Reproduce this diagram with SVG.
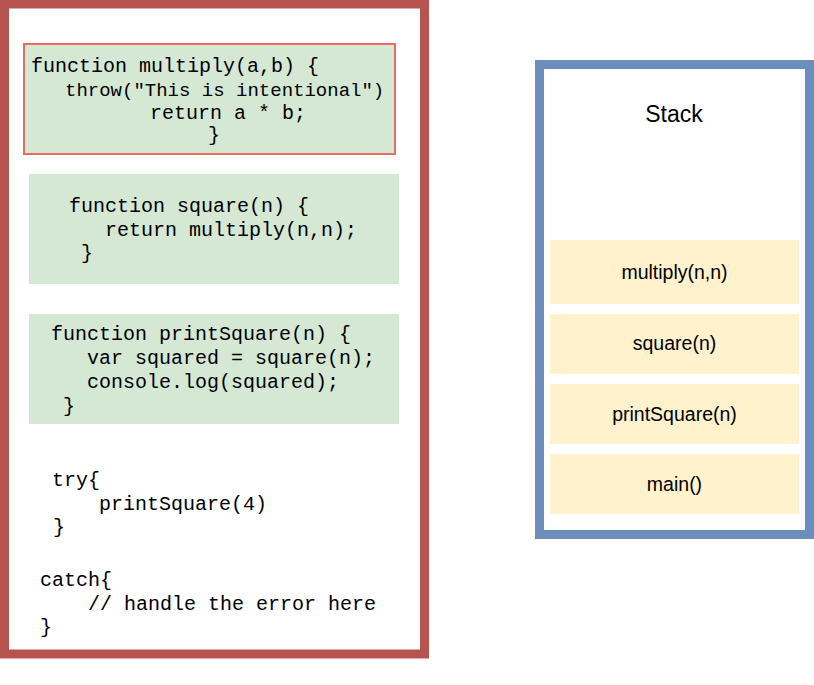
<svg xmlns="http://www.w3.org/2000/svg" width="814" height="685" viewBox="0 0 814 685">
<style>
.code{font-family:"Liberation Mono","Courier New",monospace;font-size:20px;fill:#000}
.lbl{font-family:"Liberation Sans",Arial,Helvetica,sans-serif;font-size:19.5px;fill:#000;text-anchor:middle}
.green{fill:#d5e8d4}
.frame{fill:#fff2cc}
</style>
<rect width="814" height="685" fill="#ffffff"/>
<g id="code-panel">
<rect x="4.5" y="4" width="420" height="650" fill="#ffffff" stroke="#b85450" stroke-width="9"/>
</g>
<g id="multiply-block">
<rect x="24" y="44" width="371" height="110" class="green" stroke="#ea6b66" stroke-width="2"/>
<text class="code" x="31" y="72">function multiply(a,b) {</text>
<text class="code" x="65" y="96" style="font-size:19px">throw("This is intentional")</text>
<text class="code" x="150" y="119">return a * b;</text>
<text class="code" x="208" y="141">}</text>
</g>
<g id="square-block">
<rect x="29" y="174" width="370" height="110" class="green"/>
<text class="code" x="69" y="212">function square(n) {</text>
<text class="code" x="105" y="236">return multiply(n,n);</text>
<text class="code" x="81" y="259">}</text>
</g>
<g id="printSquare-block">
<rect x="29" y="314" width="370" height="110" class="green"/>
<text class="code" x="51" y="340">function printSquare(n) {</text>
<text class="code" x="87" y="364">var squared = square(n);</text>
<text class="code" x="87" y="388">console.log(squared);</text>
<text class="code" x="63" y="412">}</text>
</g>
<g id="try-block">
<text class="code" x="52" y="486">try{</text>
<text class="code" x="99" y="510">printSquare(4)</text>
<text class="code" x="53" y="533">}</text>
</g>
<g id="catch-block">
<text class="code" x="40" y="586">catch{</text>
<text class="code" x="88" y="610">// handle the error here</text>
<text class="code" x="40" y="633">}</text>
</g>
<g id="stack">
<rect x="539.5" y="64.5" width="270" height="470" fill="#ffffff" stroke="#6c8ebf" stroke-width="9"/>
<text x="674" y="122" style="font-family:'Liberation Sans',Arial,sans-serif;font-size:23px;text-anchor:middle;fill:#000">Stack</text>
</g>
<g id="frame-multiply">
<rect x="550" y="240" width="249" height="64" class="frame"/>
<text class="lbl" x="674.5" y="279">multiply(n,n)</text>
</g>
<g id="frame-square">
<rect x="550" y="314" width="249" height="60" class="frame"/>
<text class="lbl" x="674.5" y="350">square(n)</text>
</g>
<g id="frame-printSquare">
<rect x="550" y="384" width="249" height="60" class="frame"/>
<text class="lbl" x="674.5" y="421">printSquare(n)</text>
</g>
<g id="frame-main">
<rect x="550" y="454" width="249" height="60" class="frame"/>
<text class="lbl" x="674.5" y="491">main()</text>
</g>
<g id="connectors"></g>
</svg>
